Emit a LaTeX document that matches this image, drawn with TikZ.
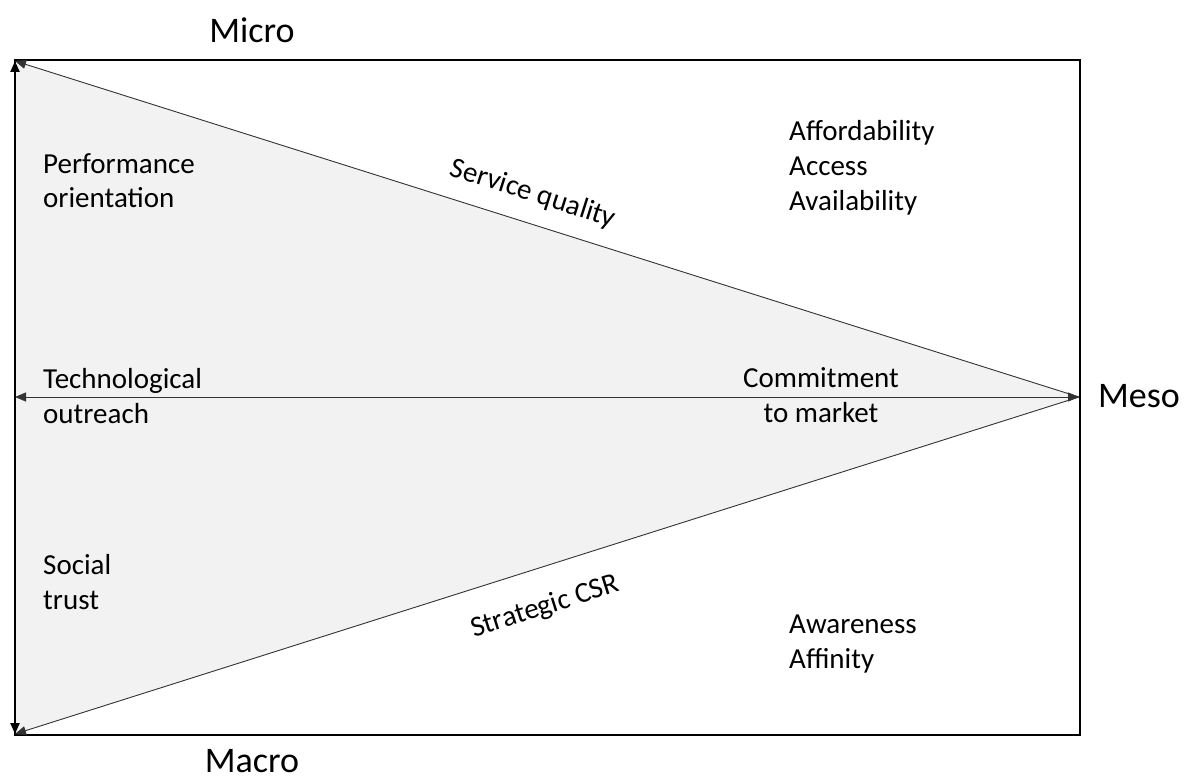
\documentclass[tikz,border=0pt]{standalone}
\usepackage{fontspec}
\setmainfont{Carlito}
\usetikzlibrary{arrows.meta}
\begin{document}
\begin{tikzpicture}[x=1pt,y=-1pt,
  body/.style={font=\fontsize{29}{35}\selectfont, align=left, anchor=base west, inner sep=0pt},
  axislabel/.style={font=\fontsize{36}{42}\selectfont, inner sep=0pt, anchor=base},
  tip/.style={-{Triangle[length=11pt,width=9pt]}},
  dtip/.style={{Triangle[length=11pt,width=9pt]}-{Triangle[length=11pt,width=9pt]}}]
\useasboundingbox (0,0) rectangle (1189,778);
\coordinate (micro) at (15,61);
\coordinate (macro) at (15,734);
\coordinate (meso) at (1079,397);
\coordinate (left) at (15,397);
\fill[gray!10] (micro) -- (meso) -- (macro) -- cycle;
\draw[line width=1.5pt] (15,60) rectangle (1080,735);
\draw[line width=2.2pt, dtip] (micro) -- (macro);
\draw[line width=0.9pt, black!80, tip] (meso) -- (micro);
\draw[line width=0.9pt, black!80, tip] (meso) -- (macro);
\draw[line width=0.9pt, black!80, dtip] (left) -- (meso);
\node[axislabel] (lmicro) at (252,43) {Micro};
\node[axislabel, anchor=base west] (lmeso) at (1098,407) {Meso};
\node[axislabel] (lmacro) at (252,772) {Macro};
\node[body] (perf) at (43,208) {Performance\\orientation};
\node[body] (aff) at (789,211) {Affordability\\Access\\Availability};
\node[body] (tech) at (43,423) {Technological\\outreach};
\node[body, align=center, anchor=base] (comm) at (821,422) {Commitment\\to market};
\node[body] (soc) at (43,609) {Social\\trust};
\node[body] (awa) at (789,668) {Awareness\\Affinity};
\node[font=\fontsize{29}{35}\selectfont, rotate=-17.6, inner sep=0pt] (sq) at (533,194) {Service quality};
\node[font=\fontsize{29}{35}\selectfont, rotate=17.6, inner sep=0pt] (csr) at (545,607) {Strategic CSR};
\end{tikzpicture}
\end{document}
